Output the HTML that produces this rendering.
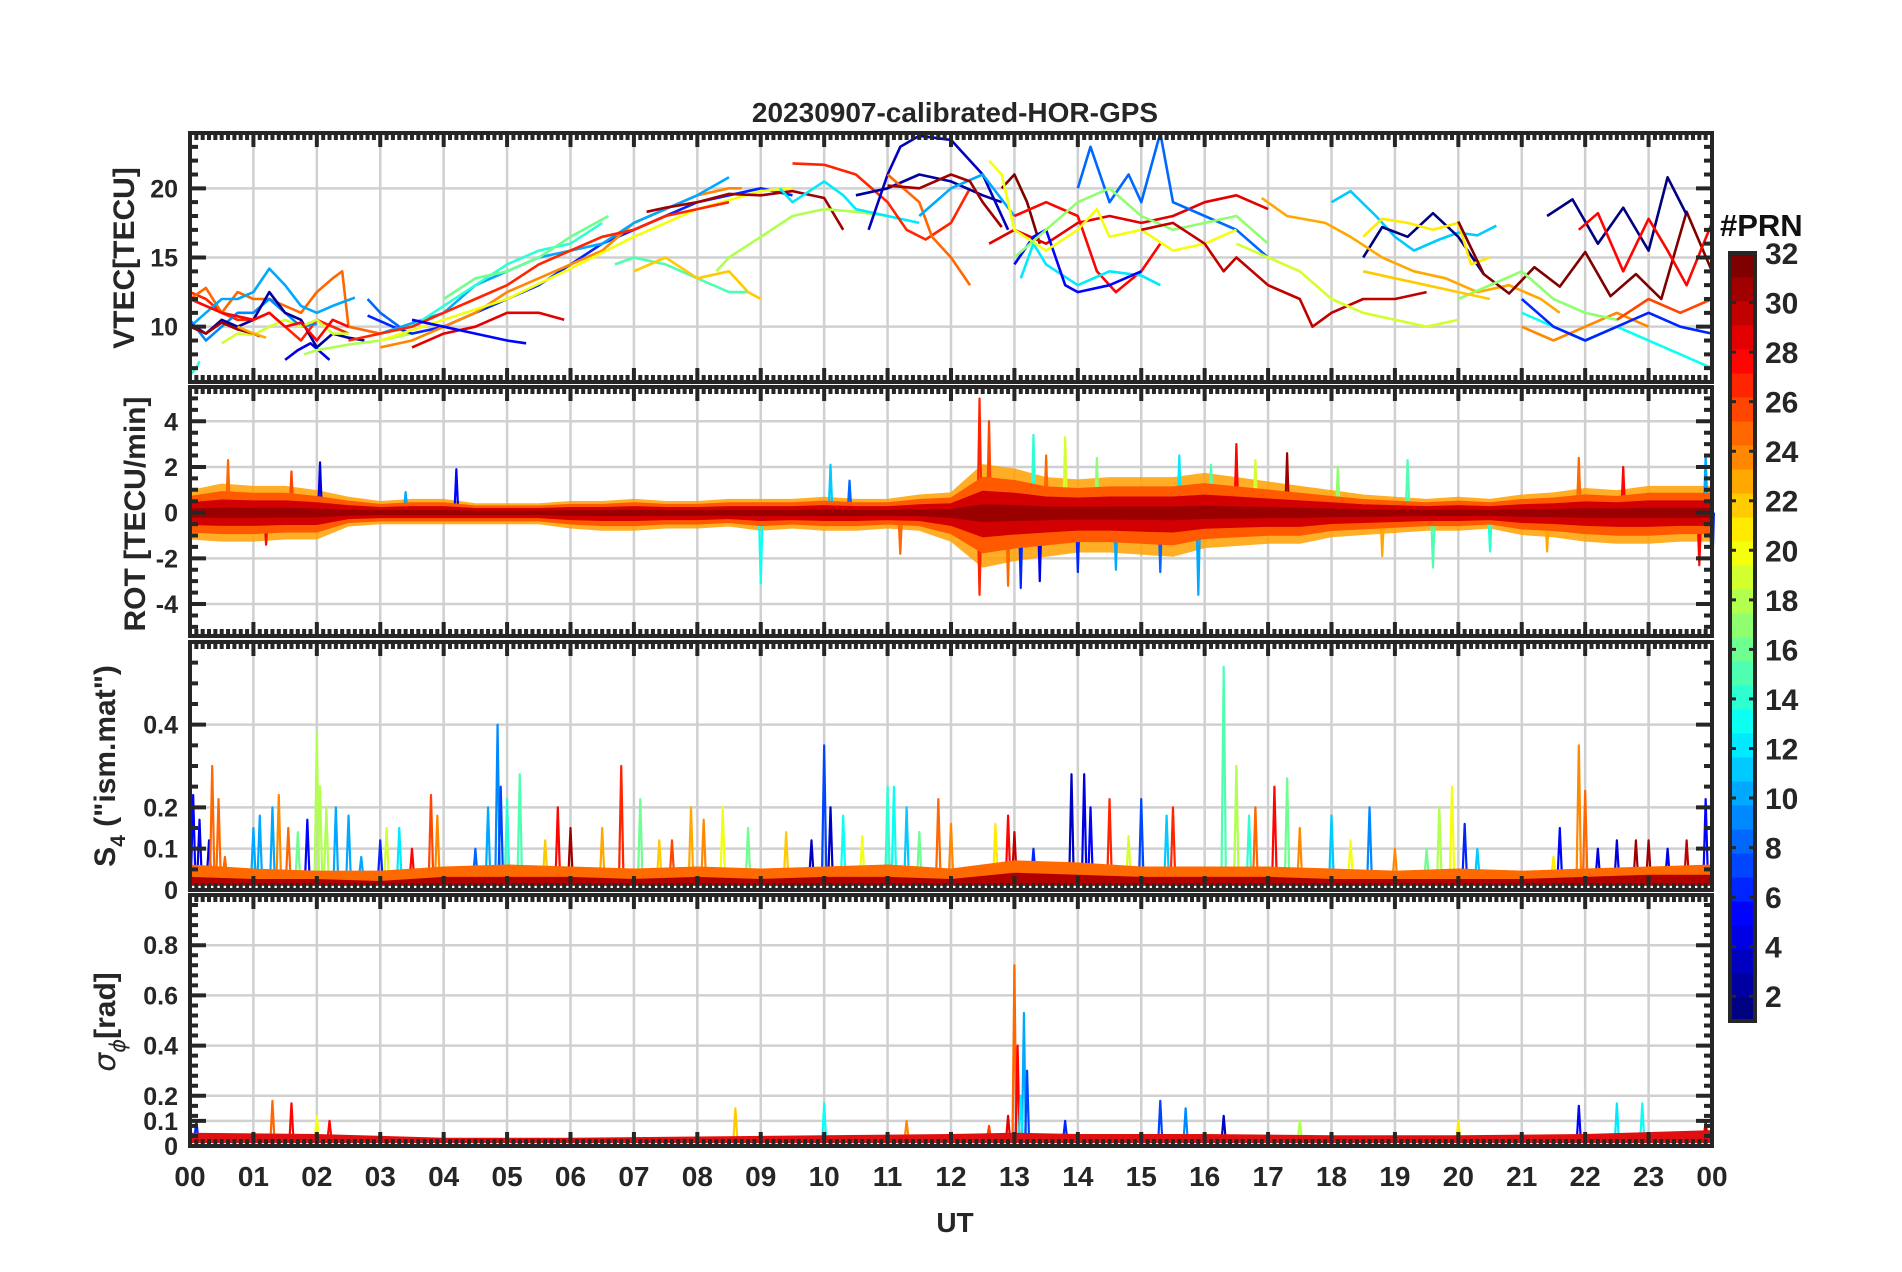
<!DOCTYPE html>
<html><head><meta charset="utf-8"><title>20230907-calibrated-HOR-GPS</title>
<style>
html,body{margin:0;padding:0;background:#fff;}
svg{display:block;font-family:"Liberation Sans",sans-serif;font-weight:bold;}
</style></head>
<body>
<svg id="chart" width="1902" height="1272" viewBox="0 0 1902 1272" xmlns="http://www.w3.org/2000/svg">
<rect width="1902" height="1272" fill="#fff"/>
<g id="grid"></g>
<g id="marks"></g>
<g id="axes"></g>
<text x="955" y="122" text-anchor="middle" font-size="28" fill="#262626">20230907-calibrated-HOR-GPS</text>
<text x="955" y="1232" text-anchor="middle" font-size="28" fill="#262626">UT</text>
<text transform="translate(134,258) rotate(-90)" text-anchor="middle" font-size="30" fill="#262626">VTEC[TECU]</text>
<text transform="translate(145,514) rotate(-90)" text-anchor="middle" font-size="30" fill="#262626">ROT [TECU/min]</text>
<text transform="translate(115,766) rotate(-90)" text-anchor="middle" font-size="30" fill="#262626">S<tspan font-size="21" dy="10">4</tspan><tspan dy="-10"> ("ism.mat")</tspan></text>
<text transform="translate(115,1022) rotate(-90)" text-anchor="middle" font-size="30" fill="#262626" font-style="italic"><tspan font-family="DejaVu Sans" font-weight="normal">σ</tspan><tspan font-size="21" dy="10" font-family="DejaVu Sans" font-weight="normal">ϕ</tspan><tspan dy="-10" font-style="normal">[rad]</tspan></text>
<text x="1720" y="236" font-size="31" fill="#111">#PRN</text>
<g id="cbar"></g>
</svg>
<script>
// ---------- DATA ----------
const hourLabels = ["00","01","02","03","04","05","06","07","08","09","10","11","12","13","14","15","16","17","18","19","20","21","22","23","00"];
const vtecTicks = [10,15,20];
const rotTicks = [-4,-2,0,2,4];
const s4Ticks = [0,0.1,0.2,0.4];
const sigTicks = [0,0.1,0.2,0.4,0.6,0.8];
const cbarTicks = [2,4,6,8,10,12,14,16,18,20,22,24,26,28,30,32];

// VTEC tracks: PRN, times (UT hours), values (TECU)
const vtecPrn = [27,25,10,9,2,4,19,31,23,18,14,28,6,24,10,14,16,20,27,29,5,8,31,15,22,18,12,27,3,2,25,10,31,32,29,28,12,5,8,20,17,30,11,1,21,23,32,1,28,13,24,17,6,26,19,22];
const vtecT = [
 [0,0.25,0.5,0.75,1,1.25,1.5,1.75,2,2.25,2.5],
 [0,0.25,0.5,0.75,1,1.25,1.5,1.75,2,2.25,2.4,2.5,3.0],
 [0,0.25,0.5,0.75,1,1.25,1.5,1.75,2,2.25,2.6],
 [0,0.25,0.5,0.75,1,1.25,1.5,1.75,2],
 [0,0.25,0.5,0.75,1,1.25,1.5,1.75,2,2.25,2.5,2.75],
 [1.5,1.7,1.9,2.2],
 [0.5,0.75,1,1.25,1.5,1.75,2,2.25,2.5],
 [0,0.25,0.5,0.75,1,1.1],
 [0.75,1,1.2],
 [1.8,2,2.5,3,3.5],
 [0,0.1,0.15],
 [0,0.5,1,1.25,1.5,1.75,2,2.25,2.5],
 [2.8,3.2,3.5,4,4.5,5,5.5,6,6.5,7,7.5,8,8.5,9,9.5],
 [3,3.5,4,4.5,5,5.5,6,6.5,7,7.5,8,8.5,8.7],
 [3,4,4.5,5,5.5,6,6.5,7,7.5,8,8.5],
 [3.5,4,4.5,5,5.5,6,6.5],
 [4,4.5,5,5.5,6,6.6],
 [3,4,5,6,7,8,9,9.5],
 [2.5,3,3.5,4,4.5,5,5.5,6,6.5,7,7.5,8,8.5],
 [3.5,4,4.5,5,5.5,5.9],
 [3.5,4,4.5,5,5.3],
 [2.8,3,3.3],
 [7.2,7.5,8,8.5,9,9.5,10,10.3],
 [6.7,7,7.5,8,8.5,8.8],
 [7,7.5,8,8.5,8.8,9],
 [8.3,8.5,9,9.5,10,10.5,11],
 [9.3,9.5,10,10.3,10.5,11,11.5],
 [9.5,10,10.5,11,11.3,11.6,12,12.3],
 [10.7,11,11.2,11.5,12,12.5,12.9],
 [10.5,11,11.5,12,12.5,12.8],
 [11,11.5,11.7,12,12.3],
 [11.5,12,12.5,13],
 [11,11.5,12,12.3,12.5,12.8],
 [12.8,13,13.2,13.4],
 [12.6,13,13.5,14,14.5,15,15.5,16,16.5,17],
 [13,13.5,14,14.3,14.6,15,15.3],
 [13.1,13.3,13.5,14,14.5,15,15.3],
 [13,13.3,13.5,13.8,14,14.5,15],
 [14,14.2,14.5,14.8,15,15.3,15.5,16,16.5,17],
 [12.6,12.8,13,13.5,14,14.3,14.5,15,15.5,16,16.5],
 [13,13.5,14,14.5,15,15.5,16,16.5,17],
 [15,15.5,16,16.3,16.5,17,17.5,17.7,18,18.5,19,19.5],
 [18,18.3,18.7,19,19.3,19.7,20,20.3,20.6],
 [18.5,18.8,19.2,19.6,20,20.4],
 [18.5,18.8,19.2,19.6,20,20.2,20.5],
 [16.9,17.3,17.9,18.3,18.8,19.3,19.8,20.3,20.8,21.3,21.6],
 [20,20.4,20.8,21.2,21.6,22,22.4,22.8,23.2,23.6,24],
 [21.4,21.8,22.2,22.6,23,23.3,23.6],
 [21.9,22.2,22.6,23,23.3,23.6,24],
 [21,21.5,22,22.5,23,23.5,24],
 [21,21.5,22,22.5,23],
 [20,20.5,21,21.5,22,22.5],
 [21,21.5,22,22.5,23,23.5,24],
 [22.5,23,23.5,24],
 [16.5,17,17.5,18,18.5,19,19.5,20],
 [18.5,19,19.5,20,20.5]
];
const vtecV = [
 [12.5,12,11,10.5,10.5,11,10,9,10.5,10,9.5],
 [12,12.8,11,12.5,12,12,11.5,11,12.5,13.5,14,10,9.5],
 [10,11,12,12,12.5,14.2,13,11.5,11,11.5,12.1],
 [10.5,9,10,11,11,12,11,10,10.2],
 [10.2,9.5,10.5,10,10.5,12.5,11,10.5,8.5,9.5,9.2,9],
 [7.6,8.3,8.8,7.6],
 [8.8,9.5,9.4,10,10.5,10,10.5,9.5,9.5],
 [10,9.5,10.3,9.8,9.5,9.3],
 [10,9.5,9.2],
 [8,8.3,8.7,9,9.5],
 [6.5,7,7.5],
 [12,11,10.5,11,10,10.3,9,10.5,10],
 [10.8,10,9.5,10,11,12,13,14.5,16,17,18,19,19.5,20,19.5],
 [8.5,9,10,11,12.5,13.5,14.5,15.5,17.5,18.5,19.5,20,20],
 [9.5,11,13,14,15,15.5,16,17.5,18.5,19.5,20.8],
 [10,11.5,13,14.5,15.5,16,17.5],
 [12,13.5,14,15,16.5,18],
 [9,10.5,12,14.2,16.5,18.5,19.8,20],
 [9,9.5,10,11,12,13,14.5,15.5,16.5,17,18,18.5,19],
 [8.5,9.5,10,11,11,10.5],
 [10.5,10,9.5,9,8.8],
 [12,11,10],
 [18.3,18.6,19,19.6,19.5,19.8,19.3,17],
 [14.5,15,14.5,13.5,12.5,12.5],
 [14,15,13.5,14,12.5,12],
 [14,15,16.5,18,18.5,18.3,18],
 [20,19,20.5,19.5,18.5,18,17.5],
 [21.8,21.7,21,19,17,16.3,17.5,20],
 [17,21,23,23.8,23.5,21,17],
 [19.5,20,21,20.5,19.5,19],
 [21,19,16.5,15,13],
 [18,20,21,18],
 [20.2,20,21,20.5,19,17.2],
 [20,21,19,16],
 [16,17,16,17.5,18,17.5,18,19,19.5,18.5],
 [18,19,18,14,12.5,14,16],
 [13.5,16,14.5,13,14,13.7,13],
 [14.5,16.5,17,13,12.5,13,14],
 [20,23,19,21,19,24,19,18,17,15],
 [22,21,17,15.5,17,18.5,16.5,17,15.5,16,17],
 [15,17,19,20,18,17,17.5,18,16],
 [17,17.5,16,14,15,13,12,10,11,12,12,12.5],
 [19,19.8,18,16.5,15.5,16.3,16.8,16.6,17.3],
 [15,17.2,16.5,18.2,16.5,13.8],
 [16.5,17.8,17.5,17,17.5,14.5,15],
 [19.3,18,17.5,16.5,15,14,13.5,12.5,13,12,11],
 [17.6,13.8,12.4,14.3,12.9,15.4,12.2,13.8,12,18.3,14],
 [18,19.2,16,18.6,15.5,20.8,18.1],
 [17,18.2,14,17.8,15.5,13,17.5],
 [11,10,9,10,9,8,7],
 [10,9,10,11,10],
 [12,13,14,12,11,10.5],
 [12,10,9,10,11,10,9.5],
 [10.5,12,11,12],
 [16,15,14,12,11,10.5,10,10.5],
 [14,13.5,13,12.5,12]
];

// ROT envelope (TECU/min) per half hour
const rotHours = [0,0.5,1,1.5,2,2.5,3,3.5,4,4.5,5,5.5,6,6.5,7,7.5,8,8.5,9,9.5,10,10.5,11,11.5,12,12.5,13,13.5,14,14.5,15,15.5,16,16.5,17,17.5,18,18.5,19,19.5,20,20.5,21,21.5,22,22.5,23,23.5,24];
const rotUpper = [1.0,1.3,1.2,1.2,1.0,0.7,0.5,0.6,0.6,0.4,0.4,0.4,0.5,0.5,0.6,0.5,0.5,0.6,0.6,0.6,0.7,0.6,0.6,0.8,0.9,2.2,2.0,1.6,1.5,1.6,1.6,1.6,1.8,1.6,1.4,1.2,1.0,0.8,0.7,0.6,0.7,0.6,0.8,0.9,1.1,1.0,1.2,1.2,1.2];
const rotLower = [-1.2,-1.3,-1.3,-1.2,-1.2,-0.6,-0.5,-0.5,-0.5,-0.5,-0.5,-0.5,-0.7,-0.8,-0.8,-0.7,-0.7,-0.6,-0.8,-0.7,-0.8,-0.8,-0.7,-0.8,-1.3,-2.5,-2.2,-2.0,-1.8,-1.8,-1.9,-2.0,-1.6,-1.5,-1.4,-1.4,-1.1,-1.0,-0.9,-0.8,-0.8,-0.7,-1.0,-1.1,-1.3,-1.4,-1.4,-1.3,-1.3];
const rotSpikeT = [0.6,2.05,4.2,1.2,9.0,10.1,10.4,12.45,12.45,12.6,12.9,13.3,13.4,13.5,13.8,14.0,14.6,15.3,15.9,16.1,16.5,16.8,18.1,18.8,19.2,19.6,21.9,21.4,23.8,23.9,24.0,11.2,13.1,14.3,15.6,17.3,20.5,22.6,1.6,3.4];
const rotSpikeV = [2.3,2.2,1.9,-1.4,-3.1,2.1,1.4,5.0,-3.6,4.0,-3.2,3.4,-3.0,2.5,3.3,-2.6,-2.5,-2.6,-3.6,2.1,3.0,2.3,2.0,-1.9,2.3,-2.4,2.4,-1.7,-2.3,2.5,-3.0,-1.8,-3.3,2.4,2.5,2.6,-1.7,2.0,1.8,0.9];
const rotSpikePrn = [25,4,5,28,13,11,8,27,27,26,25,14,4,25,19,6,10,8,10,15,28,19,17,23,15,15,25,23,28,10,6,25,6,17,12,31,14,28,26,10];

// S4 baseline envelope per hour and spikes
const s4Hours = [0,1,2,3,4,5,6,7,8,9,10,11,12,13,14,15,16,17,18,19,20,21,22,23,24];
const s4Base = [0.06,0.05,0.045,0.045,0.055,0.06,0.055,0.05,0.055,0.05,0.055,0.06,0.05,0.07,0.065,0.055,0.055,0.055,0.05,0.045,0.05,0.045,0.05,0.055,0.06];
const s4Low = [0.03,0.025,0.025,0.02,0.03,0.03,0.03,0.025,0.03,0.025,0.03,0.03,0.025,0.04,0.035,0.03,0.03,0.03,0.025,0.025,0.025,0.025,0.03,0.035,0.035];
const s4SpikeT = [0.05,0.15,0.3,0.35,0.45,0.55,1.0,1.1,1.3,1.4,1.55,1.7,1.85,2.0,2.05,2.15,2.3,2.5,2.7,3.0,3.1,3.3,3.5,3.8,3.9,4.5,4.7,4.85,4.9,5.0,5.2,5.6,5.8,6.0,6.5,6.8,7.1,7.4,7.6,7.9,8.1,8.4,8.8,9.4,9.8,10.0,10.1,10.3,10.6,11.0,11.1,11.3,11.5,11.8,12.0,12.7,12.9,13.0,13.3,13.9,14.1,14.2,14.5,14.8,15.0,15.4,15.5,16.3,16.5,16.7,16.8,17.1,17.3,17.5,18.0,18.3,18.6,19.0,19.5,19.7,19.9,20.1,20.3,21.5,21.6,21.9,22.0,22.2,22.5,22.8,23.0,23.3,23.6,23.9];
const s4SpikeV = [0.23,0.17,0.12,0.3,0.22,0.08,0.15,0.18,0.2,0.23,0.15,0.14,0.17,0.38,0.25,0.2,0.2,0.18,0.08,0.12,0.15,0.15,0.1,0.23,0.18,0.1,0.2,0.4,0.25,0.22,0.28,0.12,0.2,0.15,0.15,0.3,0.22,0.12,0.12,0.2,0.17,0.2,0.15,0.14,0.12,0.35,0.2,0.18,0.13,0.25,0.25,0.2,0.14,0.22,0.16,0.16,0.18,0.14,0.1,0.28,0.28,0.2,0.22,0.13,0.22,0.18,0.2,0.54,0.3,0.18,0.2,0.25,0.27,0.15,0.18,0.12,0.2,0.1,0.1,0.2,0.25,0.16,0.1,0.08,0.15,0.35,0.24,0.1,0.12,0.12,0.12,0.1,0.12,0.22];
const s4SpikePrn = [5,4,4,25,25,25,10,10,10,24,25,16,5,18,18,18,10,10,10,6,19,12,28,26,24,8,10,9,7,14,15,22,28,31,23,27,16,22,26,23,24,20,16,22,3,7,3,13,20,14,13,11,16,25,24,21,28,30,6,3,4,5,27,19,7,11,27,15,18,14,25,28,16,24,11,20,9,24,16,18,20,6,11,21,5,24,25,4,4,31,31,4,30,5];

// sigma-phi baseline and spikes
const sigHours = [0,2,4,6,8,10,12,13,14,16,18,20,22,24];
const sigBase = [0.05,0.045,0.03,0.03,0.035,0.04,0.045,0.05,0.045,0.045,0.04,0.04,0.045,0.06];
const sigSpikeT = [1.3,1.6,2.2,8.6,10.0,11.3,12.6,12.9,13.0,13.05,13.15,13.2,13.1,13.8,15.3,15.7,16.3,17.5,20.0,21.9,22.5,22.9,23.9,0.1,2.0];
const sigSpikeV = [0.18,0.17,0.1,0.15,0.17,0.1,0.08,0.12,0.72,0.4,0.53,0.3,0.2,0.1,0.18,0.15,0.12,0.1,0.1,0.16,0.17,0.17,0.1,0.1,0.12];
const sigSpikePrn = [25,28,28,22,13,24,26,29,25,28,10,7,12,6,7,9,3,18,21,5,12,13,30,6,20];

// ---------- LAYOUT ----------
const NS = "http://www.w3.org/2000/svg";
const X0 = 190, X1 = 1712;
const panels = [
  {top:133, bot:382, min:6, max:24},
  {top:387, bot:636, min:-5.4, max:5.5},
  {top:642, bot:890, min:0, max:0.6},
  {top:895, bot:1146, min:0, max:1.0}
];
function xs(h){ return X0 + h*(X1-X0)/24; }
function ys(p, v){ const P = panels[p]; return P.bot - (v-P.min)/(P.max-P.min)*(P.bot-P.top); }
function jet(prn){
  const t = (prn-1)/31;
  const c = v => Math.round(255*Math.max(0,Math.min(1,v)));
  return `rgb(${c(1.5-Math.abs(4*t-3))},${c(1.5-Math.abs(4*t-2))},${c(1.5-Math.abs(4*t-1))})`;
}
function mk(tag, attrs, parent){
  const e = document.createElementNS(NS, tag);
  for (const k in attrs) e.setAttribute(k, attrs[k]);
  parent.appendChild(e); return e;
}
const grid = document.getElementById('grid');
const marks = document.getElementById('marks');
const axes = document.getElementById('axes');
const cbar = document.getElementById('cbar');
const INK = "#262626";

const yTickSets = [vtecTicks, rotTicks, s4Ticks, sigTicks];
panels.forEach((P, p) => {
  for (let h = 1; h < 24; h++) {
    const g = mk('line', {x1:xs(h), x2:xs(h), y1:P.top, y2:P.bot, stroke:"#d0d0d0", 'stroke-width':2.5}, grid);
    
    
  }
  yTickSets[p].forEach(v => {
    if (v === 0 && p >= 2) return;
    const g = mk('line', {x1:X0, x2:X1, y1:ys(p,v), y2:ys(p,v), stroke:"#d0d0d0", 'stroke-width':2.5}, grid);
    
    
  });
});

vtecT.forEach((ts, i) => {
  const pts = ts.map((t, j) => xs(t).toFixed(1) + ',' + ys(0, vtecV[i][j]).toFixed(1)).join(' ');
  const l = mk('polyline', {points:pts, fill:'none', stroke:jet(vtecPrn[i]), 'stroke-width':2.6, 'stroke-linejoin':'round'}, marks);
  
  
});

function band(p, hrs, up, lo, scale, color, name, op){
  const top = hrs.map((h,i) => xs(h).toFixed(1)+','+ys(p, up[i]*scale).toFixed(1));
  const bot = hrs.map((h,i) => xs(h).toFixed(1)+','+ys(p, lo[i]*scale).toFixed(1)).reverse();
  const e = mk('polygon', {points: top.concat(bot).join(' '), fill:color, stroke:color, 'stroke-width':1.5, 'stroke-linejoin':'round', opacity: op||1}, marks);
  
  
}
function spikes(p, ts, vs, prns, base, w, name){
  ts.forEach((t, i) => {
    const pts = [xs(t-w)+','+ys(p,base), xs(t)+','+ys(p,vs[i]), xs(t+w)+','+ys(p,base)].join(' ');
    const e = mk('polyline', {points:pts, fill:'none', stroke:jet(prns[i]), 'stroke-width':2.2, 'stroke-linejoin':'round'}, marks);
    
    
  });
}

// ROT
band(1, rotHours, rotUpper, rotLower, 0.95, '#ffa000', 'rot-band-outer', 0.85);
spikes(1, rotSpikeT, rotSpikeV, rotSpikePrn, 0, 0.03, 'rot-spike');
band(1, rotHours, rotUpper, rotLower, 0.7, '#ff5a00', 'rot-band-mid');
band(1, rotHours, rotUpper, rotLower, 0.42, '#d20000', 'rot-band-inner');
band(1, rotHours, rotUpper, rotLower, 0.15, '#9a0000', 'rot-band-core');

// S4
spikes(2, s4SpikeT, s4SpikeV, s4SpikePrn, 0.03, 0.035, 's4-spike');
band(2, s4Hours, s4Base, s4Hours.map(()=>0.012), 1.0, '#ff6a00', 's4-band-outer');
band(2, s4Hours, s4Low, s4Hours.map(()=>0.012), 1.0, '#b00000', 's4-band-inner');

// sigma phi
spikes(3, sigSpikeT, sigSpikeV, sigSpikePrn, 0.03, 0.03, 'sigma-spike');
band(3, sigHours, sigBase, sigHours.map(()=>0.015), 1.0, '#e01010', 'sigma-band');

panels.forEach((P, p) => {
  const f = mk('rect', {x:X0, y:P.top, width:X1-X0, height:P.bot-P.top, fill:'none', stroke:INK, 'stroke-width':4}, axes);
  
  
  let d = '';
  for (let k = 0; k <= 240; k++) {
    const x = xs(k/10), L = (k % 10 === 0) ? 14 : 7;
    d += `M${x},${P.top}v${L}M${x},${P.bot}v${-L}`;
  }
  const minorStep = [1, 0.5, 0.05, 0.04][p];
  for (let v = Math.ceil(P.min/minorStep)*minorStep; v <= P.max; v += minorStep) {
    const y = ys(p, v);
    d += `M${X0},${y}h8M${X1},${y}h-8`;
  }
  yTickSets[p].forEach(v => { const y = ys(p, v); d += `M${X0},${y}h16M${X1},${y}h-16`; });
  const t = mk('path', {d:d, stroke:INK, 'stroke-width':4, fill:'none'}, axes);
  
  
  yTickSets[p].forEach(v => {
    const lab = mk('text', {x:178, y:ys(p,v)+9, 'text-anchor':'end', 'font-size':25, fill:INK}, axes);
    lab.textContent = String(v);
    
    
  });
});
hourLabels.forEach((s, i) => {
  const lab = mk('text', {x:xs(i), y:1186, 'text-anchor':'middle', 'font-size':28, fill:INK}, axes);
  lab.textContent = s;
  
  
});

const CB = {x:1730, w:25, top:253, bot:1021};
for (let i = 1; i <= 32; i++) {
  const h = (CB.bot-CB.top)/32;
  const r = mk('rect', {x:CB.x, y:CB.bot - i*h, width:CB.w, height:h+0.5, fill:jet(i)}, cbar);
  
  
}
const cf = mk('rect', {x:CB.x, y:CB.top, width:CB.w, height:CB.bot-CB.top, fill:'none', stroke:INK, 'stroke-width':4}, cbar);


function cby(v){ return CB.bot - (v-1)*(CB.bot-CB.top)/31; }
cbarTicks.forEach(v => {
  const y = cby(v);
  const tk = mk('path', {d:`M${CB.x},${y}h6M${CB.x+CB.w},${y}h-6`, stroke:INK, 'stroke-width':3}, cbar);
  
  
  const lab = mk('text', {x:1765, y:y+11, 'font-size':30, fill:INK}, cbar);
  lab.textContent = String(v);
  
  
});
</script>
</body></html>
